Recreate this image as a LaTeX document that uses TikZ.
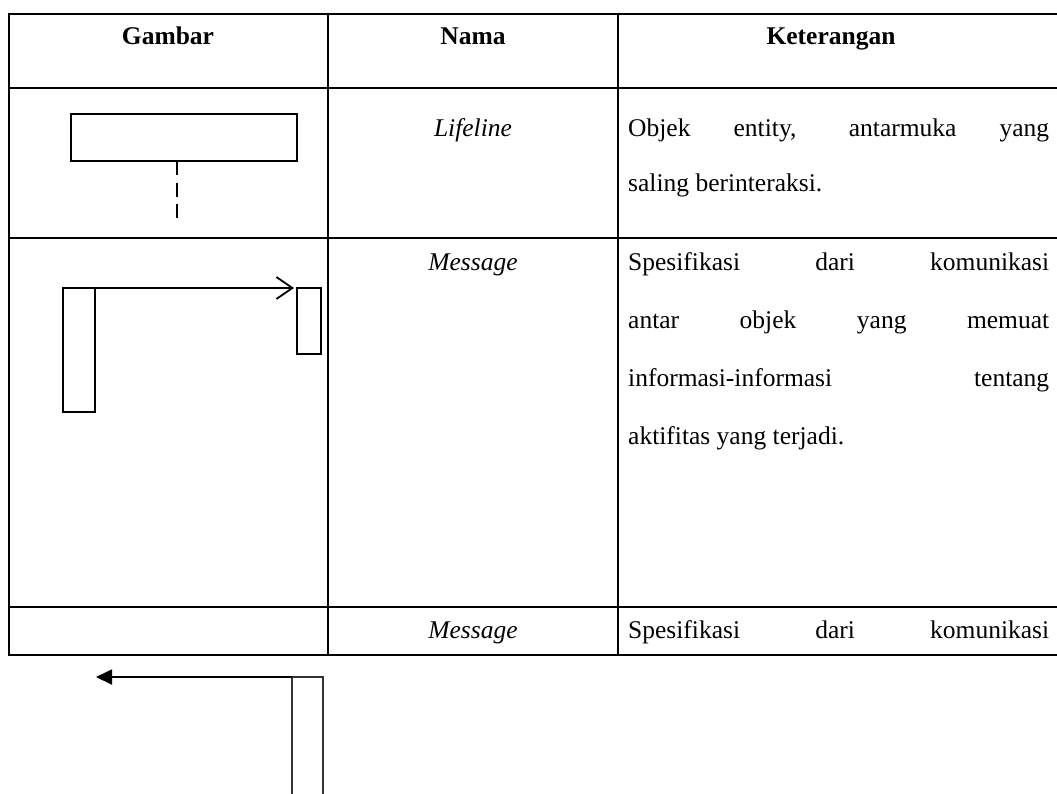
\documentclass[tikz,border=0pt]{standalone}
\usepackage{fontspec}
\setmainfont{Liberation Serif}
\usetikzlibrary{arrows.meta}
\tikzset{
  grid/.style={line width=2.4pt, black},
  shp/.style={draw, line width=1.8pt, inner sep=0pt, outer sep=0pt},
  hdr/.style={font=\fontsize{25.5}{30}\selectfont\bfseries, anchor=base, inner sep=0pt},
  nm/.style={font=\fontsize{25.5}{30}\selectfont\itshape, anchor=base, inner sep=0pt},
  jline/.style={font=\fontsize{25.5}{30}\selectfont, anchor=base west, inner sep=0pt},
}
\newcommand{\jl}[1]{\makebox[421pt][s]{#1}}
\begin{document}
\begin{tikzpicture}[x=1pt,y=-1pt]
\useasboundingbox (0,0) rectangle (1057,793);
% table grid
\draw[grid] (1057,14) -- (9,14) -- (9,655) -- (1057,655);
\draw[grid] (9,88) -- (1057,88);
\draw[grid] (9,238) -- (1057,238);
\draw[grid] (9,607) -- (1057,607);
\draw[grid] (328,14) -- (328,655);
\draw[grid] (618,14) -- (618,655);
% header
\node[hdr] (h1) at (168,44) {Gambar};
\node[hdr] (h2) at (473,44) {Nama};
\node[hdr] (h3) at (831,44) {Keterangan};
% row 1
\node[nm] (n1) at (473,136) {Lifeline};
\node[jline] (k1a) at (628,136) {\jl{Objek entity, antarmuka yang}};
\node[jline] (k1b) at (628,191) {saling berinteraksi.};
\node[shp, minimum width=226pt, minimum height=47pt] (lf) at (184,137.5) {};
\coordinate (lfend) at (177,221);
\draw[line width=1.8pt, dash pattern=on 14pt off 7.5pt] (lf.south -| lfend) -- (lfend);
% row 2
\node[nm] (n2) at (473,270) {Message};
\node[jline] (k2a) at (628,270) {\jl{Spesifikasi dari komunikasi}};
\node[jline] (k2b) at (628,328) {\jl{antar objek yang memuat}};
\node[jline] (k2c) at (628,386) {\jl{informasi-informasi tentang}};
\node[jline] (k2d) at (628,444) {aktifitas yang terjadi.};
\node[shp, minimum width=32pt, minimum height=124pt, anchor=north west] (a1) at (63,288) {};
\node[shp, minimum width=24pt, minimum height=66pt, anchor=north west] (a2) at (297,288) {};
\draw[line width=1.8pt, -{Straight Barb[length=16pt,width=22pt,line width=1.8pt]}] (a1.north east) -- ([xshift=-3pt]a2.north west);
% row 3
\node[nm] (n3) at (473,638) {Message};
\node[jline] (k3a) at (628,638) {\jl{Spesifikasi dari komunikasi}};
% below table
\node[draw=black!80, line width=1.5pt, minimum width=31pt, minimum height=140pt, anchor=north west, inner sep=0pt, outer sep=0pt] (a3) at (292,677) {};
\coordinate (m2end) at (96,677);
\draw[line width=1.8pt, -{Triangle[length=16pt,width=15pt]}] (a3.north west) -- (m2end);
\end{tikzpicture}
\end{document}
